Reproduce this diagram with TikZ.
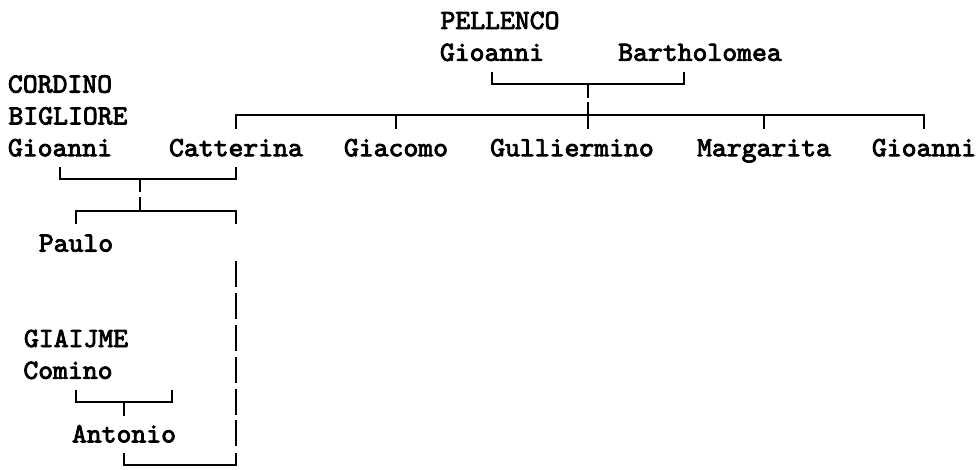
\documentclass[tikz,border=0pt]{standalone}
\usepackage{fontspec}
\newfontfamily\treefont{lmmono10-regular.otf}[FakeStretch=1.02,FakeBold=3]
\usetikzlibrary{calc}
\tikzset{
  person/.style={anchor=base,inner sep=0pt,yshift=-0.18cm,font=\treefont\fontsize{15.8}{18}\selectfont},
  link/.style={line width=1.1pt,black}
}

\begin{document}
\begin{tikzpicture}[x=0.32cm,y=-0.636cm]
\useasboundingbox ([xshift=-0.08cm,yshift=0.4cm]0,0) rectangle ++(19.54cm,-9.38cm);
\foreach \r in {2,3,5,6,12,14}{\coordinate (r\r) at (0,\r);}
% Pellenco
\node[person] (pellenco) at (31,0) {PELLENCO};
\node[person] (pelGio) at (30.5,1) {Gioanni};
\node[person] (pelBart) at (43.5,1) {Bartholomea};
% Cordino Bigliore
\node[person] (cordino) at (3.5,2) {CORDINO};
\node[person] (bigliore) at (4,3) {BIGLIORE};
\node[person] (corGio) at (3.5,4) {Gioanni};
\node[person] (catterina) at (14.5,4) {Catterina};
\node[person] (giacomo) at (24.5,4) {Giacomo};
\node[person] (gulliermino) at (35.5,4) {Gulliermino};
\node[person] (margarita) at (47.5,4) {Margarita};
\node[person] (gioanni) at (57.5,4) {Gioanni};
\node[person] (paulo) at (4.5,7) {Paulo};
% Giaijme
\node[person] (giaijme) at (4.5,10) {GIAIJME};
\node[person] (comino) at (4,11) {Comino};
\node[person] (antonio) at (7.5,13) {Antonio};
% junctions off the name centres
\coordinate (pelR) at (42.5,2);
\coordinate (pelKids) at (36.5,3);
\coordinate (corKids) at (8.5,5);
\coordinate (comL) at (4.5,12);
\coordinate (comR) at (10.5,12);
% couple lines and children
\draw[link] (pelGio.base |- 0,1.62) -- (pelGio.base |- r2) -- (pelR) -- ++(0,-0.38);
\draw[link] (pelKids |- r2) -- ++(0,0.44);
\draw[link] (catterina.base |- 0,3.42) -- (catterina.base |- r3) -- (gioanni.base |- r3) -- (gioanni.base |- 0,3.42);
\foreach \n in {giacomo,margarita}{\draw[link] (\n.base |- r3) -- (\n.base |- 0,3.42);}
\draw[link] (pelKids) ++(0,-0.42) -- ++(0,0.84);
\draw[link] (corGio.base |- 0,4.62) -- (corGio.base |- r5) -- (catterina.base |- r5) -- (catterina.base |- 0,4.62);
\draw[link] (corKids) -- ++(0,0.42);
\draw[link] (corKids |- r6) -- ++(0,-0.42);
\draw[link] (paulo.base |- 0,6.42) -- (paulo.base |- r6) -- (catterina.base |- r6) -- (catterina.base |- 0,6.42);
\foreach \r in {8,...,13}{\draw[link] (catterina.base |- 0,\r) ++(0,-0.41) -- ++(0,0.82);}
\draw[link] (catterina.base |- 0,13.62) -- (catterina.base |- r14) -- (antonio.base |- r14) -- (antonio.base |- 0,13.62);
\draw[link] (comL) ++(0,-0.38) -- (comL) -- (comR) -- ++(0,-0.38);
\draw[link] (antonio.base |- r12) -- (antonio.base |- 0,12.44);
\end{tikzpicture}
\end{document}
